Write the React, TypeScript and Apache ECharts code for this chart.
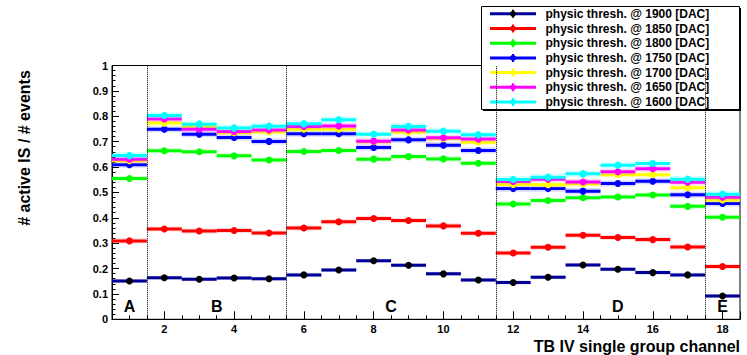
import { useEffect, useRef } from "react";
import * as echarts from "echarts";

const channels = [1, 2, 3, 4, 5, 6, 7, 8, 9, 10, 11, 12, 13, 14, 15, 16, 17, 18];
const thresholds = ["1900", "1850", "1800", "1750", "1700", "1650", "1600"];

const t1900 = [0.151, 0.164, 0.158, 0.163, 0.160, 0.175, 0.194, 0.231, 0.213, 0.179, 0.155, 0.145, 0.166, 0.214, 0.197, 0.184, 0.175, 0.092];
const t1850 = [0.309, 0.356, 0.348, 0.350, 0.340, 0.360, 0.384, 0.397, 0.389, 0.368, 0.339, 0.261, 0.284, 0.331, 0.322, 0.314, 0.285, 0.208];
const t1800 = [0.555, 0.664, 0.660, 0.644, 0.628, 0.661, 0.665, 0.631, 0.641, 0.632, 0.615, 0.454, 0.468, 0.479, 0.482, 0.490, 0.445, 0.402];
const t1750 = [0.609, 0.749, 0.729, 0.716, 0.701, 0.731, 0.731, 0.677, 0.707, 0.686, 0.665, 0.515, 0.515, 0.505, 0.535, 0.544, 0.491, 0.456];
const t1700 = [0.625, 0.773, 0.760, 0.735, 0.738, 0.749, 0.749, 0.700, 0.737, 0.712, 0.698, 0.531, 0.530, 0.533, 0.570, 0.570, 0.518, 0.470];
const t1650 = [0.631, 0.789, 0.749, 0.740, 0.746, 0.760, 0.762, 0.702, 0.746, 0.715, 0.710, 0.543, 0.552, 0.541, 0.581, 0.593, 0.540, 0.481];
const t1600 = [0.645, 0.803, 0.769, 0.754, 0.761, 0.770, 0.786, 0.729, 0.760, 0.741, 0.727, 0.551, 0.560, 0.573, 0.607, 0.614, 0.552, 0.493];
const seriesValues = [t1900, t1850, t1800, t1750, t1700, t1650, t1600];
const errorHalf = [0.008, 0.01, 0.01, 0.012, 0.012, 0.012, 0.014];

const lineColors = ["#000099", "#ff0000", "#00ff00", "#0000ff", "#ffff00", "#ff00ff", "#00ffff"];
const markerColors = ["#000000", "#ff0000", "#00ff00", "#0000ff", "#ffff00", "#ff00ff", "#00ffff"];

const regionLabels = ["A", "B", "C", "D", "E"];
const regionPositions = [1, 3.5, 8.5, 15, 18];
const regionLabelY = 0.02;
const regionBoundaries = [1.5, 5.5, 11.5, 17.5];

const yTitle = "# active IS / # events";
const xTitle = "TB IV single group channel";

const FONT = '"Liberation Sans", Arial, Helvetica, sans-serif';

export default function App() {
  const ref = useRef<HTMLDivElement>(null);
  useEffect(() => {
    document.body.style.margin = "0";
    const chart = echarts.init(ref.current!, null, { renderer: "svg" });

    const dataSeries = seriesValues.map((vals, i) => ({
      type: "custom",
      name: `physic thresh. @ ${thresholds[i]} [DAC]`,
      data: channels.map((c, j) => [c, vals[j]]),
      encode: { x: 0, y: 1 },
      renderItem: (_params: any, api: any) => {
        const x = api.value(0);
        const y = api.value(1);
        const e = errorHalf[i];
        const l = api.coord([x - 0.5, y]);
        const r = api.coord([x + 0.5, y]);
        const c = api.coord([x, y]);
        const top = api.coord([x, y + e]);
        const bot = api.coord([x, y - e]);
        return {
          type: "group",
          children: [
            {
              type: "rect",
              shape: { x: l[0], y: top[1], width: r[0] - l[0], height: bot[1] - top[1] },
              style: { fill: lineColors[i], opacity: 0.15 },
            },
            {
              type: "line",
              shape: { x1: l[0], y1: c[1], x2: r[0], y2: c[1] },
              style: { stroke: lineColors[i], lineWidth: 3 },
            },
            {
              type: "line",
              shape: { x1: c[0], y1: top[1], x2: c[0], y2: bot[1] },
              style: { stroke: markerColors[i], lineWidth: 2 },
            },
            {
              type: "circle",
              shape: { cx: c[0], cy: c[1], r: 3.5 },
              style: { fill: markerColors[i] },
            },
          ],
        };
      },
    }));

    const regionSeries = {
      type: "custom",
      name: "regions",
      data: regionPositions.map((p, k) => [p, regionLabelY, regionLabels[k]]),
      encode: { x: 0, y: 1 },
      z: 1,
      renderItem: (_params: any, api: any) => {
        const p = api.coord([api.value(0), api.value(1)]);
        const txt = regionLabels[_params.dataIndex];
        return {
          type: "text",
          x: p[0],
          y: p[1],
          style: {
            text: txt,
            fill: "#000",
            font: `bold 16px ${FONT}`,
            align: "center",
            verticalAlign: "bottom",
            textAlign: "center",
            textVerticalAlign: "bottom",
          },
        };
      },
      markLine: {
        silent: true,
        symbol: ["none", "none"],
        label: { show: false },
        lineStyle: { type: "dotted", color: "#000", width: 1 },
        data: regionBoundaries.map((b) => ({ xAxis: b })),
      },
    };

    const legendLeft = 481.5;
    const legendTop = 6.5;
    const legendW = 258;
    const legendH = 103;
    const rowY0 = 13.8;
    const rowStep = 14.7;
    const legendChildren: any[] = [
      {
        type: "rect",
        shape: { x: legendLeft + 1.5, y: legendTop + 1.5, width: legendW, height: legendH },
        style: { fill: "#000" },
      },
      {
        type: "rect",
        shape: { x: legendLeft, y: legendTop, width: legendW, height: legendH },
        style: { fill: "#fff", stroke: "#000", lineWidth: 1 },
      },
    ];
    thresholds.forEach((t, i) => {
      const yy = rowY0 + i * rowStep;
      legendChildren.push(
        {
          type: "line",
          shape: { x1: 490, y1: yy, x2: 536, y2: yy },
          style: { stroke: lineColors[i], lineWidth: 3 },
        },
        {
          type: "line",
          shape: { x1: 513, y1: yy - 4, x2: 513, y2: yy + 4 },
          style: { stroke: markerColors[i], lineWidth: 2 },
        },
        {
          type: "circle",
          shape: { cx: 513, cy: yy, r: 3 },
          style: { fill: markerColors[i] },
        },
        {
          type: "text",
          x: 545.5,
          y: yy,
          style: {
            text: `physic thresh. @ ${t} [DAC]`,
            fill: "#000",
            font: `bold 12px ${FONT}`,
            align: "left",
            verticalAlign: "middle",
            textAlign: "left",
            textVerticalAlign: "middle",
          },
        }
      );
    });

    chart.setOption({
      animation: false,
      backgroundColor: "#fff",
      grid: {
        left: 112,
        right: 7,
        top: 65.5,
        bottom: 35.7,
        show: true,
        borderColor: "#000",
        borderWidth: 1,
      },
      xAxis: {
        type: "value",
        min: 0.5,
        max: 18.5,
        splitNumber: 9,
        minInterval: 2,
        maxInterval: 2,
        axisLine: { show: true, onZero: false, lineStyle: { color: "#000", width: 1 } },
        axisTick: { show: true, inside: true, length: 8, lineStyle: { color: "#000" } },
        minorTick: { show: true, splitNumber: 4, length: 4, lineStyle: { color: "#000" } },
        splitLine: { show: false },
        axisLabel: {
          color: "#000",
          fontFamily: FONT,
          fontWeight: "bold",
          fontSize: 11,
          margin: 4,
          showMinLabel: false,
          showMaxLabel: false,
          formatter: (v: number) => (Number.isInteger(v) ? String(v) : ""),
        },
      },
      yAxis: {
        type: "value",
        min: 0,
        max: 1,
        interval: 0.1,
        axisLine: { show: true, lineStyle: { color: "#000", width: 1 } },
        axisTick: { show: true, inside: true, length: 7, lineStyle: { color: "#000" } },
        minorTick: { show: true, splitNumber: 5, length: 3.5, lineStyle: { color: "#000" } },
        splitLine: { show: false },
        axisLabel: {
          color: "#000",
          fontFamily: FONT,
          fontWeight: "bold",
          fontSize: 11,
          margin: 4,
        },
      },
      graphic: [
        {
          type: "text",
          x: 24.5,
          y: 148,
          rotation: Math.PI / 2,
          style: {
            text: yTitle,
            fill: "#000",
            font: `bold 16px ${FONT}`,
            align: "center",
            verticalAlign: "middle",
            textAlign: "center",
            textVerticalAlign: "middle",
          },
        },
        {
          type: "text",
          x: 740,
          y: 346,
          style: {
            text: xTitle,
            fill: "#000",
            font: `bold 16px ${FONT}`,
            align: "right",
            verticalAlign: "middle",
            textAlign: "right",
            textVerticalAlign: "middle",
          },
        },
        { type: "group", children: legendChildren, z: 100 },
      ],
      series: [regionSeries, ...dataSeries],
    });

    return () => chart.dispose();
  }, []);

  return <div ref={ref} style={{ width: 747, height: 355 }} />;
}
